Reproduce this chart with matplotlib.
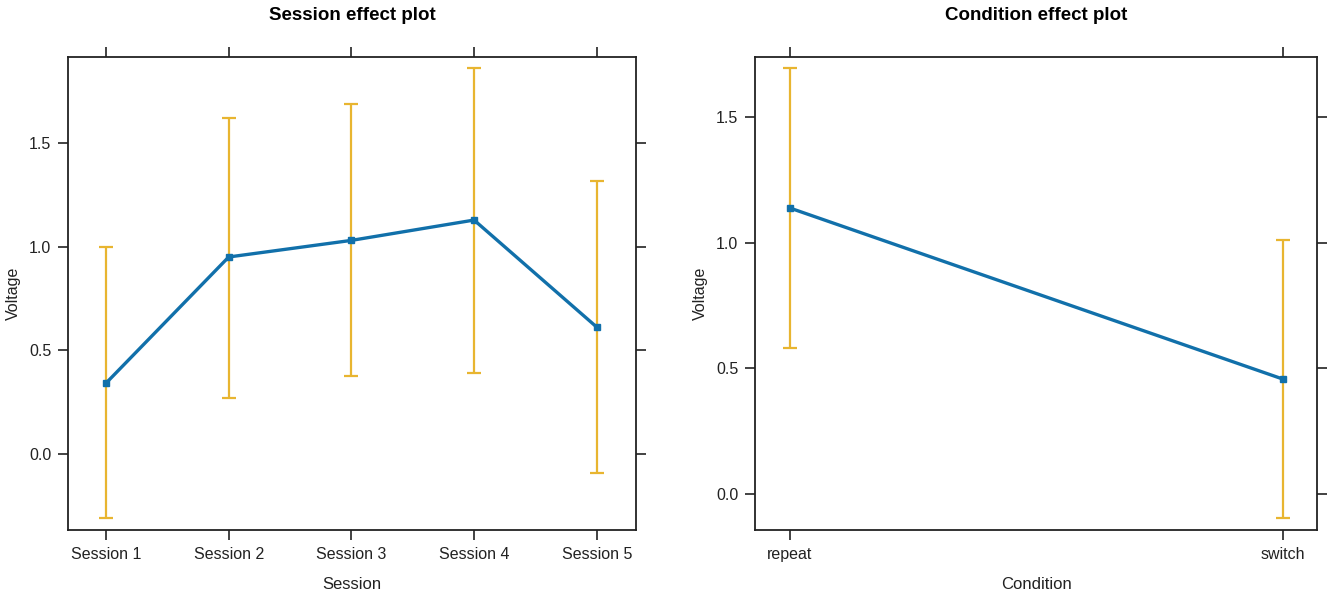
import matplotlib
matplotlib.use("Agg")
import matplotlib.pyplot as plt

plt.rcParams['font.family'] = ['Liberation Sans', 'DejaVu Sans']

# Session panel
sessions = ["Session 1", "Session 2", "Session 3", "Session 4", "Session 5"]
session_fit = [0.342, 0.950, 1.030, 1.128, 0.612]
session_lower = [-0.309, 0.270, 0.376, 0.390, -0.092]
session_upper = [0.998, 1.620, 1.688, 1.861, 1.316]

# Condition panel
conditions = ["repeat", "switch"]
condition_fit = [1.138, 0.458]
condition_lower = [0.581, -0.095]
condition_upper = [1.695, 1.011]

line_col = "#1170AA"
ci_col = "#E8B530"

fig = plt.figure(figsize=(13.28, 5.94), dpi=100)


def effect_panel(ax, labels, fit, lower, upper, title, xlabel, yticks, ylim, xpad):
    x = list(range(1, len(labels) + 1))
    err = [[f - lo for f, lo in zip(fit, lower)], [up - f for f, up in zip(fit, upper)]]
    ax.errorbar(x, fit, yerr=err, fmt="none", ecolor=ci_col, elinewidth=1.6,
                capsize=5, capthick=1.6, zorder=1)
    ax.plot(x, fit, color=line_col, lw=2.4, marker="s", ms=4.5,
            markerfacecolor=line_col, markeredgecolor=line_col, zorder=2)
    ax.set_xlim(1 - xpad[0], len(labels) + xpad[1])
    ax.set_ylim(*ylim)
    ax.set_xticks(x)
    ax.set_xticklabels(labels)
    ax.set_yticks(yticks)
    ax.set_yticklabels(["%.1f" % v for v in yticks])
    ax.tick_params(direction="out", length=7, width=1.2, top=True, right=True,
                   labelsize=11.5, colors="#222222", pad=5)
    for s in ax.spines.values():
        s.set_linewidth(1.3)
        s.set_color("#222222")
    ax.set_xlabel(xlabel, fontsize=12, labelpad=11, color="#222222")
    ax.set_ylabel("Voltage", fontsize=11.5, labelpad=6, color="#222222")
    ax.set_title(title, fontsize=13.5, fontweight="bold", pad=27)


ax1 = fig.add_axes([68 / 1328, 64 / 594, 568 / 1328, 473 / 594])
effect_panel(ax1, sessions, session_fit, session_lower, session_upper,
             "Session effect plot", "Session", [0.0, 0.5, 1.0, 1.5],
             (-0.366, 1.914), (0.31, 0.32))

ax2 = fig.add_axes([755 / 1328, 64 / 594, 562 / 1328, 473 / 594])
effect_panel(ax2, conditions, condition_fit, condition_lower, condition_upper,
             "Condition effect plot", "Condition", [0.0, 0.5, 1.0, 1.5],
             (-0.143, 1.739), (0.071, 0.07))

fig.savefig("out.png", dpi=100)
